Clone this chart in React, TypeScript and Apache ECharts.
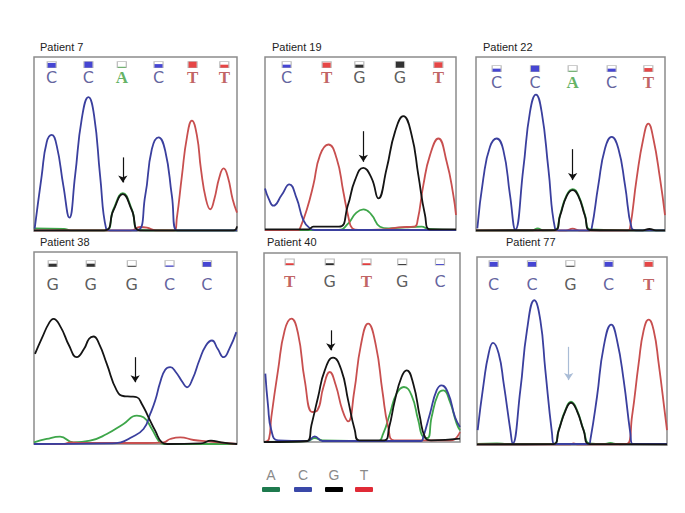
import React, { useEffect, useRef } from "react";
import * as echarts from "echarts";

// ---------- DATA (x = position along trace, y = signal) ----------
// Patient 7
const p7A = [[0,8],[90,6],[110,2],[213,2],[238,65],[266,113],[293,65],[315,3],[420,2],[608,2]];
const p7C = [[2,7],[23,165],[38,265],[53,287],[68,255],[88,135],[106,40],[123,165],[143,335],[163,400],[180,345],[198,165],[216,7],[228,2],[308,2],[333,105],[353,245],[373,280],[393,240],[413,105],[428,2],[608,2]];
const p7G = [[0,2],[210,2],[238,62],[266,110],[293,62],[318,2],[598,2],[608,14]];
const p7T = [[0,2],[290,2],[318,12],[338,10],[365,2],[420,2],[428,40],[443,165],[458,280],[473,330],[488,285],[500,185],[515,95],[528,65],[540,95],[555,160],[568,187],[581,160],[595,95],[608,55]];
const p7Calls = ["C","C","A","C","T","T"];
const p7CallX = [53,163,263,373,475,570];
const p7Quality = [0.8,1,0.15,0.6,1,0.5];
const p7Arrow = [266,220,145];

// Patient 19
const p19A = [[0,0],[220,0],[250,20],[272,50],[295,62],[318,48],[345,10],[370,5],[420,8],[470,10],[490,3],[573,0]];
const p19C = [[0,125],[12,92],[25,73],[50,105],[73,137],[95,95],[115,30],[135,5],[150,0],[573,0]];
const p19G = [[0,2],[130,2],[145,10],[222,10],[248,72],[270,150],[295,187],[320,155],[340,95],[365,185],[390,295],[415,342],[440,285],[460,165],[480,45],[495,2],[573,2]];
const p19T = [[0,0],[100,0],[105,5],[125,60],[145,135],[165,225],[190,257],[215,215],[235,115],[250,40],[262,5],[280,0],[360,2],[400,8],[448,10],[458,30],[475,135],[495,225],[520,275],[545,205],[565,105],[573,45]];
const p19Calls = ["C","T","G","G","T"];
const p19CallX = [65,185,283,405,520];
const p19Quality = [0.5,0.85,0.5,1,0.9];
const p19Arrow = [295,297,205];

// Patient 22
const p22A = [[0,2],[170,2],[185,8],[200,2],[237,3],[252,48],[272,108],[290,126],[307,108],[327,48],[342,5],[567,2]];
const p22C = [[4,8],[22,158],[42,253],[62,278],[82,243],[102,108],[118,4],[142,188],[162,358],[180,410],[197,358],[217,188],[237,8],[250,2],[340,2],[347,8],[367,138],[387,248],[407,283],[427,248],[447,138],[467,8],[480,2],[567,2]];
const p22G = [[0,2],[237,3],[252,45],[272,105],[290,123],[307,105],[327,45],[342,3],[500,2],[520,6],[540,2],[567,2]];
const p22T = [[0,2],[270,2],[290,7],[310,2],[455,2],[462,8],[482,158],[502,278],[517,323],[532,278],[552,158],[567,48]];
const p22Calls = ["C","C","A","C","T"];
const p22CallX = [62,177,290,407,517];
const p22Quality = [0.5,1,0.15,0.5,0.6];
const p22Arrow = [290,246,153];

// Patient 38
const p38A = [[0,5],[38,15],[78,22],[118,5],[168,10],[218,30],[268,60],[308,85],[328,80],[353,45],[373,10],[388,0],[608,0]];
const p38C = [[0,0],[230,2],[260,5],[288,18],[328,45],[348,90],[363,130],[378,185],[393,222],[408,230],[425,215],[445,185],[458,170],[475,195],[495,250],[515,295],[533,310],[550,285],[568,260],[585,285],[606,335]];
const p38G = [[3,270],[25,320],[45,362],[58,375],[80,350],[105,295],[128,260],[150,285],[165,315],[178,322],[195,300],[218,240],[248,160],[270,143],[290,142],[308,140],[323,120],[343,80],[363,40],[383,5],[400,0],[500,2],[530,10],[560,5],[608,0]];
const p38T = [[0,0],[90,0],[110,5],[140,3],[338,3],[388,5],[408,15],[438,20],[478,12],[518,8],[608,0]];
const p38Calls = ["G","G","G","C","C"];
const p38CallX = [56,170,293,406,518];
const p38Quality = [0.5,0.5,0.15,0.2,0.8];
const p38Arrow = [303,260,185];

// Patient 40
const p40A = [[0,0],[130,3],[152,12],[175,5],[340,3],[357,25],[377,85],[397,145],[419,165],[442,140],[462,65],[477,15],[490,12],[502,75],[522,145],[537,155],[557,120],[577,55],[587,35]];
const p40C = [[4,205],[12,110],[22,35],[42,5],[130,3],[152,17],[175,3],[470,3],[477,15],[497,85],[517,155],[532,170],[552,145],[572,75],[587,45]];
const p40G = [[0,0],[130,3],[142,50],[162,135],[182,215],[207,253],[232,215],[252,125],[272,35],[285,5],[360,5],[375,45],[392,125],[412,195],[427,215],[447,175],[467,75],[482,15],[500,5],[587,10]];
const p40T = [[0,0],[15,10],[22,75],[42,215],[62,335],[82,370],[102,325],[122,185],[145,90],[160,95],[178,165],[197,210],[215,170],[235,95],[252,62],[270,150],[290,290],[312,355],[335,290],[355,150],[372,45],[390,5],[470,5],[560,5],[587,30]];
const p40Calls = ["T","G","T","G","C"];
const p40CallX = [77,197,307,414,527];
const p40Quality = [0.3,0.3,0.3,0.15,0.15];
const p40Arrow = [200,335,275];

// Patient 77
const p77A = [[0,3],[60,5],[90,3],[230,3],[245,45],[265,105],[282,130],[300,105],[320,45],[338,5],[380,3],[400,6],[420,3],[570,3]];
const p77C = [[2,45],[20,185],[35,275],[48,307],[65,275],[80,185],[100,45],[107,4],[130,165],[150,345],[172,435],[190,375],[205,225],[225,35],[232,3],[335,3],[340,15],[360,145],[380,295],[403,362],[420,315],[440,195],[460,35],[467,3],[570,3]];
const p77G = [[0,2],[230,3],[245,43],[265,102],[282,127],[300,102],[320,43],[338,3],[570,2]];
const p77T = [[0,2],[280,2],[290,5],[300,2],[450,3],[465,85],[485,245],[500,345],[515,377],[530,345],[545,245],[565,85],[570,45]];
const p77Calls = ["C","C","G","C","T"];
const p77CallX = [50,165,280,395,515];
const p77Quality = [0.8,0.8,0.15,0.8,0.8];
const p77Arrow = [275,295,195];

const titles = ["Patient 7","Patient 19","Patient 22","Patient 38","Patient 40","Patient 77"];
const legendBases = ["A","C","G","T"];

// ---------- STYLES / LAYOUT ----------
const TRACE_COLOR: Record<string,string> = { A: "#3ea64a", C: "#3a3f9e", G: "#141414", T: "#c84f4f" };
const LETTER_COLOR: Record<string,string> = { A: "#3c9e3c", C: "#3a3a86", G: "#333333", T: "#b03a3a" };
const SQUARE_COLOR: Record<string,string> = { A: "#2a9a2a", C: "#1818c8", G: "#000000", T: "#e01818" };
const LEGEND_BAR: Record<string,string> = { A: "#1e7a4e", C: "#3a48a8", G: "#000000", T: "#e02a36" };

const panels = [
  { A: p7A, C: p7C, G: p7G, T: p7T, calls: p7Calls, callX: p7CallX, q: p7Quality, arrow: p7Arrow, arrowColor: "#111" },
  { A: p19A, C: p19C, G: p19G, T: p19T, calls: p19Calls, callX: p19CallX, q: p19Quality, arrow: p19Arrow, arrowColor: "#111" },
  { A: p22A, C: p22C, G: p22G, T: p22T, calls: p22Calls, callX: p22CallX, q: p22Quality, arrow: p22Arrow, arrowColor: "#111" },
  { A: p38A, C: p38C, G: p38G, T: p38T, calls: p38Calls, callX: p38CallX, q: p38Quality, arrow: p38Arrow, arrowColor: "#111" },
  { A: p40A, C: p40C, G: p40G, T: p40T, calls: p40Calls, callX: p40CallX, q: p40Quality, arrow: p40Arrow, arrowColor: "#111" },
  { A: p77A, C: p77C, G: p77G, T: p77T, calls: p77Calls, callX: p77CallX, q: p77Quality, arrow: p77Arrow, arrowColor: "#a9bcd6" },
];

const layout = [
  { left: 34, top: 57, width: 203, height: 174, xMax: 608, yMax: 520, sqY: 497, letY: 458, tx: 40, ty: 41 },
  { left: 265, top: 57, width: 191, height: 173, xMax: 573, yMax: 520, sqY: 497, letY: 458, tx: 272, ty: 41 },
  { left: 476, top: 57, width: 189, height: 174, xMax: 567, yMax: 523, sqY: 488, letY: 446, tx: 483, ty: 41 },
  { left: 34, top: 252, width: 203, height: 192, xMax: 608, yMax: 575, sqY: 540, letY: 478, tx: 40, ty: 236 },
  { left: 264, top: 253, width: 196, height: 189, xMax: 587, yMax: 567, sqY: 540, letY: 483, tx: 267, ty: 236 },
  { left: 477, top: 257, width: 190, height: 188, xMax: 570, yMax: 565, sqY: 545, letY: 483, tx: 506, ty: 236 },
];
const legendX = [271, 303, 334, 364];

function buildOption() {
  const grid = layout.map((l) => ({
    left: l.left, top: l.top, width: l.width, height: l.height,
    show: true, borderColor: "#8c8c8c", borderWidth: 1.5, backgroundColor: "#ffffff",
  }));
  const xAxis = layout.map((l, i) => ({ type: "value", gridIndex: i, min: 0, max: l.xMax, show: false }));
  const yAxis = layout.map((l, i) => ({ type: "value", gridIndex: i, min: 0, max: l.yMax, show: false }));
  const series: any[] = [];
  const letterRich: any = {};
  ["A","C","G","T"].forEach((b) => {
    const serif = b === "A" || b === "T";
    letterRich[b] = {
      color: LETTER_COLOR[b],
      fontFamily: serif ? "Liberation Serif" : "DejaVu Sans",
      fontSize: serif ? 17 : 16,
      fontWeight: serif ? "bold" : "normal",
    };
  });
  panels.forEach((p: any, i) => {
    const l = layout[i];
    ["A","T","C","G"].forEach((b) => {
      const s: any = {
        type: "line", xAxisIndex: i, yAxisIndex: i, data: p[b],
        symbol: "none", showSymbol: false, smooth: 0.5,
        lineStyle: { color: TRACE_COLOR[b], width: 1.8 }, silent: true, clip: true,
      };
      if (b === "G") {
        s.markLine = {
          silent: true, symbol: ["none", "arrow"], symbolSize: 7,
          lineStyle: { color: p.arrowColor, width: 1.2, type: "solid" },
          label: { show: false },
          data: [[{ coord: [p.arrow[0], p.arrow[1]] }, { coord: [p.arrow[0], p.arrow[2]] }]],
        };
      }
      series.push(s);
    });
    series.push({
      type: "scatter", xAxisIndex: i, yAxisIndex: i, silent: true, symbol: "rect", symbolSize: [9, 6],
      itemStyle: { color: "#ffffff", borderColor: "#aaaaaa", borderWidth: 1 },
      data: p.callX.map((x: number) => [x, l.sqY]),
    });
    series.push({
      type: "scatter", xAxisIndex: i, yAxisIndex: i, silent: true, symbol: "rect",
      data: p.callX.map((x: number, k: number) => ({
        value: [x, l.sqY],
        symbolSize: [8, 6 * p.q[k]],
        symbolOffset: [0, 3 - 3 * p.q[k]],
        itemStyle: { color: SQUARE_COLOR[p.calls[k]] },
      })),
    });
    series.push({
      type: "scatter", xAxisIndex: i, yAxisIndex: i, silent: true, symbolSize: 0,
      data: p.callX.map((x: number, k: number) => ({ value: [x, l.letY], name: p.calls[k] })),
      label: {
        show: true, position: "inside",
        formatter: (d: any) => `{${d.name}|${d.name}}`,
        rich: letterRich,
      },
    });
  });

  const graphic: any[] = [];
  layout.forEach((l, i) => {
    graphic.push({
      type: "text", left: l.tx, top: l.ty,
      style: { text: titles[i], font: '11px "Liberation Sans", Arial, sans-serif', fill: "#222222" },
    });
  });
  legendBases.forEach((b, k) => {
    graphic.push({
      type: "text", x: legendX[k], y: 475,
      style: { text: b, font: '14px "Liberation Sans", Arial, sans-serif', fill: "#8a8a8a", align: "center", verticalAlign: "middle" },
    });
    graphic.push({
      type: "rect", shape: { x: legendX[k] - 9, y: 487, width: 18, height: 5, r: 1 },
      style: { fill: LEGEND_BAR[b] },
    });
  });

  return {
    animation: false,
    backgroundColor: "#ffffff",
    grid, xAxis, yAxis, series, graphic,
  };
}

export default function App() {
  const ref = useRef<HTMLDivElement>(null);
  useEffect(() => {
    if (!ref.current) return;
    const chart = echarts.init(ref.current, undefined, { renderer: "svg" });
    chart.setOption(buildOption() as any);
    return () => chart.dispose();
  }, []);
  return (
    <div
      ref={ref}
      style={{ position: "absolute", left: 0, top: 0, width: 685, height: 513 }}
    />
  );
}
